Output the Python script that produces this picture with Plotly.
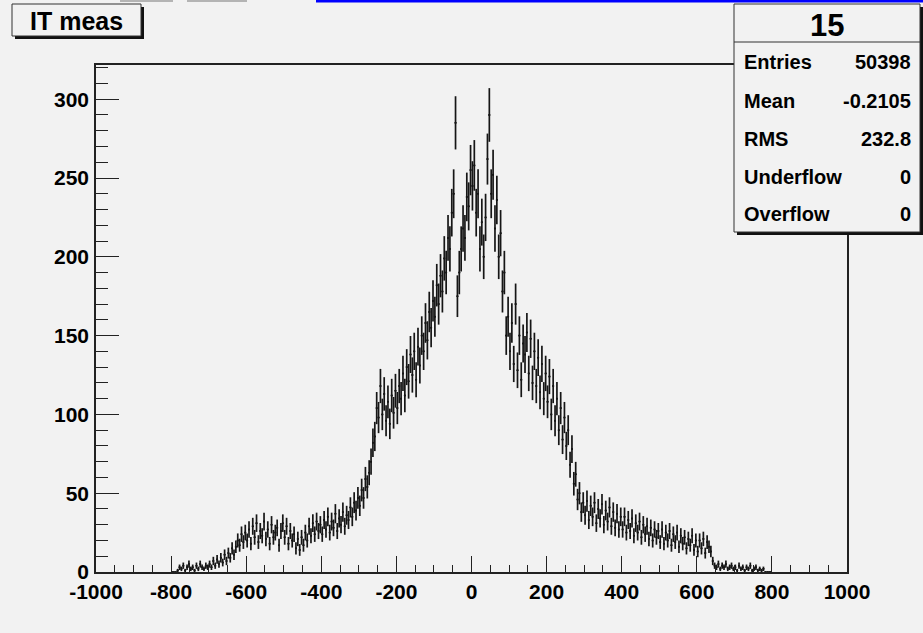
import numpy as np
import plotly.graph_objects as go

# ---- data: counts per bin (bin width 5, from -800 to 800) ----
bin_lo = -800
bin_w = 5
seg_m800 = [0,0,0,1,3,2,4,1,3,5,2,3,1,4,2,5,3,2,4,3]
seg_m700 = [5,3,7,4,8,5,9,6,11,7,12,9,15,11,16,20,17,24,19,25]
seg_m600 = [20,27,18,29,22,31,19,26,23,32,21,27,18,30,22,25,28,17,26,31]
seg_m500 = [22,29,18,26,20,24,15,21,14,22,17,25,20,29,23,31,24,32,26,30]
seg_m400 = [24,33,27,35,25,32,28,37,26,34,30,38,29,36,33,41,35,44,39,47]
seg_m300 = [42,52,47,59,54,63,70,82,86,104,98,118,100,113,96,108,94,112,101,115]
seg_m200 = [104,118,110,126,112,130,121,138,125,140,122,143,131,150,140,158,147,165,155,172]
seg_m100 = [162,182,170,188,178,199,190,212,205,228,240,285,175,190,205,218,212,238,232,255]
seg_p000 = [245,258,228,240,205,222,200,225,262,290,240,252,218,236,200,215,178,190,150,162]
seg_p100 = [140,158,132,170,128,150,122,145,138,152,126,148,120,140,118,136,114,132,110,126]
seg_p200 = [108,124,100,118,96,110,90,104,84,98,80,90,68,78,56,62,46,50,38,44]
seg_p300 = [36,45,33,42,35,44,31,40,34,43,30,39,32,41,29,38,28,37,27,35]
seg_p400 = [27,35,25,33,26,34,23,31,25,32,22,30,24,29,21,28,20,27,22,26]
seg_p500 = [19,27,18,25,20,26,17,24,19,25,16,23,18,22,15,21,17,23,14,20]
seg_p600 = [13,20,15,21,12,19,16,13,7,4,3,5,2,4,3,5,2,3,4,2]
seg_p700 = [3,1,4,2,3,1,3,2,4,1,2,3,1,2,1,2,0,0,0,0]

counts = np.array(seg_m800 + seg_m700 + seg_m600 + seg_m500 + seg_m400 + seg_m300 +
                  seg_m200 + seg_m100 + seg_p000 + seg_p100 + seg_p200 + seg_p300 +
                  seg_p400 + seg_p500 + seg_p600 + seg_p700, dtype=float)
centers = bin_lo + bin_w * (np.arange(len(counts)) + 0.5)
errors = np.sqrt(counts)

x_ticks = [-1000, -800, -600, -400, -200, 0, 200, 400, 600, 800, 1000]
y_ticks = [0, 50, 100, 150, 200, 250, 300]

hist_title = "IT meas"
stat_title = "15"
stat_names = ["Entries", "Mean", "RMS", "Underflow", "Overflow"]
stat_values = ["50398", "-0.2105", "232.8", "0", "0"]

# ---- layout geometry (pixels) ----
W, H = 923, 633
L, R, T, B = 96, 847, 65, 572
BG = "#f2f2f2"
FONT = "Liberation Sans"
INK = "#161616"


def px(xp):
    return (xp - L) / (R - L)


def py(yp):
    return (B - yp) / (B - T)


fig = go.Figure()
fig.add_trace(go.Scatter(
    x=centers, y=counts, mode="markers",
    marker=dict(size=2, color=INK),
    error_y=dict(type="data", array=errors, thickness=1.7, width=0, color=INK),
    error_x=dict(type="constant", value=bin_w / 2, thickness=1.5, width=0, color=INK),
    hoverinfo="skip", showlegend=False,
))

axis_font = dict(family=FONT, size=21, color="black", weight="bold")
fig.update_layout(
    width=W, height=H,
    margin=dict(l=L, r=W - R, t=T, b=H - B, pad=0),
    paper_bgcolor=BG, plot_bgcolor=BG,
    showlegend=False,
    xaxis=dict(range=[-1000, 1000], tickvals=x_ticks, ticktext=[str(v) for v in x_ticks],
               ticks="inside", ticklen=16, tickwidth=1, tickcolor="#222",
               minor=dict(dtick=50, ticks="inside", ticklen=7, tickwidth=1, tickcolor="#222", showgrid=False),
               showgrid=False, zeroline=False, showline=True, linecolor="#222", linewidth=1.5,
               mirror=True, tickfont=axis_font, ticklabelstandoff=0),
    yaxis=dict(range=[0, (B - T) / 78.8 * 50], tickvals=y_ticks, ticktext=[str(v) for v in y_ticks],
               ticks="inside", ticklen=23, tickwidth=1, tickcolor="#222",
               minor=dict(dtick=10, ticks="inside", ticklen=12, tickwidth=1, tickcolor="#222", showgrid=False),
               showgrid=False, zeroline=False, showline=True, linecolor="#222", linewidth=1.5,
               mirror=True, tickfont=axis_font, ticklabelstandoff=1),
)

shapes = []
annots = []

# top artifacts (window strip)
shapes.append(dict(type="rect", xref="paper", yref="paper", x0=px(316), x1=px(923), y0=py(0), y1=py(2.5),
                   fillcolor="#0000ff", line=dict(width=0), layer="above"))
for a, b in [(120, 173), (187, 247)]:
    shapes.append(dict(type="rect", xref="paper", yref="paper", x0=px(a), x1=px(b), y0=py(0), y1=py(2),
                       fillcolor="#b4b4b4", line=dict(width=0), layer="above"))

# title box with shadow
tb = (12, 4, 141, 36)
shapes.append(dict(type="rect", xref="paper", yref="paper", x0=px(tb[0] + 3), x1=px(tb[2] + 3),
                   y0=py(tb[1] + 3), y1=py(tb[3] + 3), fillcolor="#111", line=dict(width=0), layer="above"))
shapes.append(dict(type="rect", xref="paper", yref="paper", x0=px(tb[0]), x1=px(tb[2]),
                   y0=py(tb[1]), y1=py(tb[3]), fillcolor=BG, line=dict(color="#333", width=1), layer="above"))
annots.append(dict(xref="paper", yref="paper", x=px((tb[0] + tb[2]) / 2), y=py((tb[1] + tb[3]) / 2 + 1),
                   text=hist_title, showarrow=False, xanchor="center", yanchor="middle",
                   font=dict(family=FONT, size=25, color="black", weight="bold")))

# stats box with shadow
sb = (734, 4, 920, 232)
shapes.append(dict(type="rect", xref="paper", yref="paper", x0=px(sb[0] + 3), x1=px(sb[2] + 3),
                   y0=py(sb[1] + 3), y1=py(sb[3] + 3), fillcolor="#111", line=dict(width=0), layer="above"))
shapes.append(dict(type="rect", xref="paper", yref="paper", x0=px(sb[0]), x1=px(sb[2]),
                   y0=py(sb[1]), y1=py(sb[3]), fillcolor=BG, line=dict(color="#333", width=1), layer="above"))
shapes.append(dict(type="line", xref="paper", yref="paper", x0=px(sb[0]), x1=px(sb[2]),
                   y0=py(42), y1=py(42), line=dict(color="#333", width=1), layer="above"))
annots.append(dict(xref="paper", yref="paper", x=px((sb[0] + sb[2]) / 2), y=py(25),
                   text=stat_title, showarrow=False, xanchor="center", yanchor="middle",
                   font=dict(family=FONT, size=31, color="black", weight="bold")))
row_y = [62, 101, 139, 177, 214]
for name, val, yy in zip(stat_names, stat_values, row_y):
    annots.append(dict(xref="paper", yref="paper", x=px(742), y=py(yy), text=name, showarrow=False,
                       xanchor="left", yanchor="middle",
                       font=dict(family=FONT, size=20, color="black", weight="bold")))
    annots.append(dict(xref="paper", yref="paper", x=px(913), y=py(yy), text=val, showarrow=False,
                       xanchor="right", yanchor="middle",
                       font=dict(family=FONT, size=20, color="black", weight="bold")))

fig.update_layout(shapes=shapes, annotations=annots)
fig.write_html("out.html")
